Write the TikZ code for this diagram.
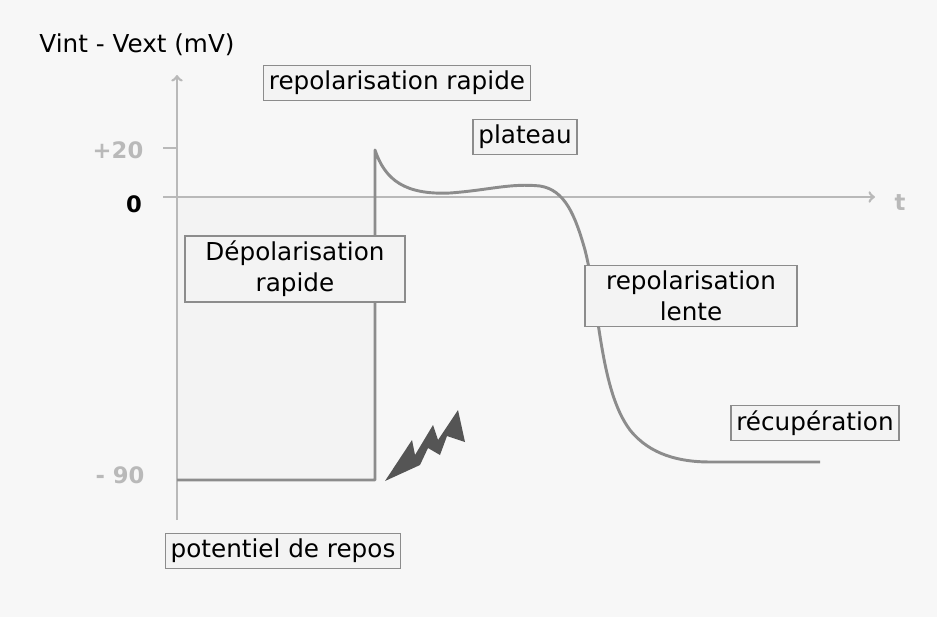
\documentclass[tikz,border=0pt]{standalone}
\usepackage{fontspec}
\setmainfont{DejaVu Sans}
\usetikzlibrary{arrows}
\definecolor{axisgray}{RGB}{185,185,185}
\definecolor{curvegray}{RGB}{140,140,140}
\definecolor{fillgray}{RGB}{243,243,243}
\definecolor{boltgray}{RGB}{85,85,85}
\tikzstyle{lbl} = [
  rectangle, draw = curvegray, fill = fillgray, line width = 1pt,
  inner xsep = 4pt, inner ysep = 4pt, align = center, text = black,
  font = \fontsize{18.5}{23}\selectfont
]
\tikzstyle{val} = [text = axisgray, font = \bfseries\fontsize{17}{20}\selectfont]

\begin{document}
\begin{tikzpicture}[x = 0.75pt, y = -0.75pt]
      \fill [white!97!black] (0, 0) rectangle (937, 617);
      \useasboundingbox (0, 0) rectangle (937, 617);
      % axes
      \coordinate (origin) at (177, 197);
      \coordinate (ybot) at (177, 520);
      \coordinate (ytop) at (177, 75);
      \coordinate (xend) at (875, 197);
      \fill [fillgray] (177, 197) rectangle (375, 480);
      \draw [axisgray, line width = 2pt, ->] (ybot) -- (ytop);
      \draw [axisgray, line width = 2pt, ->] (origin) -- (xend);
      \draw [axisgray, line width = 1.2pt] (163, 148) -- (177, 148);
      \draw [axisgray, line width = 1.2pt] (163, 197) -- (177, 197);
      \node [val] (t-20) at (118, 150) {+20};
      \node [text = black, font = \bfseries\fontsize{17}{20}\selectfont] (t-0) at (134, 204) {0};
      \node [val] (t-90) at (120, 475) {- 90};
      \node [val] (t-t) at (900, 203) {t};
      \node [font = \fontsize{18.5}{23}\selectfont] (ylabel) at (137, 45) {Vint - Vext (mV)};
      % potential curve
      \draw [curvegray, line width = 2.2pt, line join = round]
        (177, 480) -- (375, 480) -- (375, 150)
        .. controls (385, 180) and (405, 195) .. (450, 193)
        .. controls (490, 190) and (510, 183) .. (540, 186)
        .. controls (565, 190) and (575, 215) .. (585, 250)
        .. controls (600, 310) and (600, 390) .. (630, 430)
        .. controls (650, 455) and (680, 462) .. (710, 462)
        -- (820, 462);
      % stimulus
      \fill [boltgray] (385, 481) -- (412, 440) -- (415, 455) -- (433, 425)
        -- (438, 440) -- (458, 410) -- (465, 442) -- (447, 436) -- (440, 455)
        -- (428, 448) -- (420, 465) -- cycle;
      % labels
      \node [lbl] (rep-rapide) at (397, 83) {repolarisation rapide};
      \node [lbl] (plateau) at (525, 137) {plateau};
      \node [lbl, minimum width = 165pt] (depol) at (295, 269) {Dépolarisation\\rapide};
      \node [lbl, minimum width = 159pt] (rep-lente) at (691, 296) {repolarisation\\lente};
      \node [lbl] (recup) at (815, 423) {récupération};
      \node [lbl] (repos) at (283, 551) {potentiel de repos};
\end{tikzpicture}
\end{document}
